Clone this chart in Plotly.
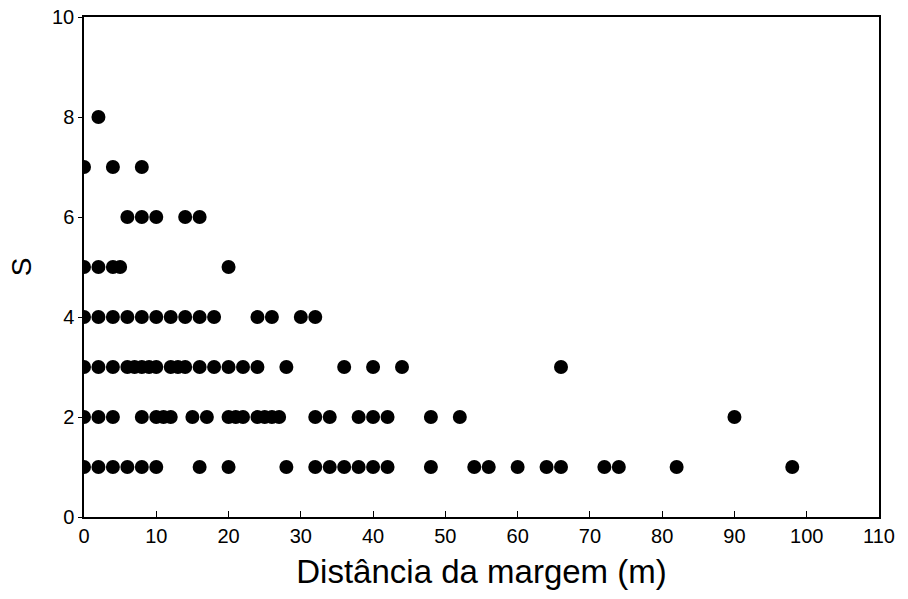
import plotly.graph_objects as go

# Distance from margin (m) for each richness level S
s8 = [2]
s7 = [0, 4, 8]
s6 = [6, 8, 10, 14, 16]
s5 = [0, 2, 4, 5, 20]
s4 = [0, 2, 4, 6, 8, 10, 12, 14, 16, 18, 24, 26, 30, 32]
s3 = [0, 2, 4, 6, 7, 8, 9, 10, 12, 13, 14, 16, 18, 20, 22, 24, 28, 36, 40, 44, 66]
s2 = [0, 2, 4, 8, 10, 11, 12, 15, 17, 20, 21, 22, 24, 25, 26, 27, 32, 34, 38, 40, 42, 48, 52, 90]
s1 = [0, 2, 4, 6, 8, 10, 16, 20, 28, 32, 34, 36, 38, 40, 42, 48, 54, 56, 60, 64, 66, 72, 74, 82, 98]

groups = {8: s8, 7: s7, 6: s6, 5: s5, 4: s4, 3: s3, 2: s2, 1: s1}
x_vals, y_vals = [], []
for s, xs in groups.items():
    x_vals += xs
    y_vals += [s] * len(xs)

x_ticks = list(range(0, 111, 10))
y_ticks = list(range(0, 11, 2))

font_fam = "Liberation Sans Narrow, Liberation Sans, Arial, sans-serif"

fig = go.Figure(go.Scatter(
    x=x_vals, y=y_vals, mode="markers",
    marker=dict(color="black", size=14, line=dict(width=0)),
    cliponaxis=True, showlegend=False,
))

fig.update_layout(
    width=908, height=599,
    margin=dict(l=84, r=29, t=17, b=82),
    paper_bgcolor="white", plot_bgcolor="white",
    font=dict(family=font_fam, color="black", size=20),
    xaxis=dict(
        range=[0, 110], tickmode="array", tickvals=x_ticks,
        ticks="inside", ticklen=6, tickwidth=1, tickcolor="black",
        showline=True, linecolor="black", linewidth=1.5, mirror=True,
        showgrid=False, zeroline=False, automargin=False,
        title=dict(text="Distância da margem (m)", font=dict(size=33, family=font_fam), standoff=14),
        tickfont=dict(size=20),
    ),
    yaxis=dict(
        range=[0, 10], tickmode="array", tickvals=y_ticks,
        ticks="outside", ticklen=4, tickwidth=1, tickcolor="black",
        showline=True, linecolor="black", linewidth=1.5, mirror=True,
        showgrid=False, zeroline=False, automargin=False,
        title=dict(text="S", font=dict(size=28, family=font_fam), standoff=12),
        tickfont=dict(size=20),
    ),
)

fig.write_html("out.html")
